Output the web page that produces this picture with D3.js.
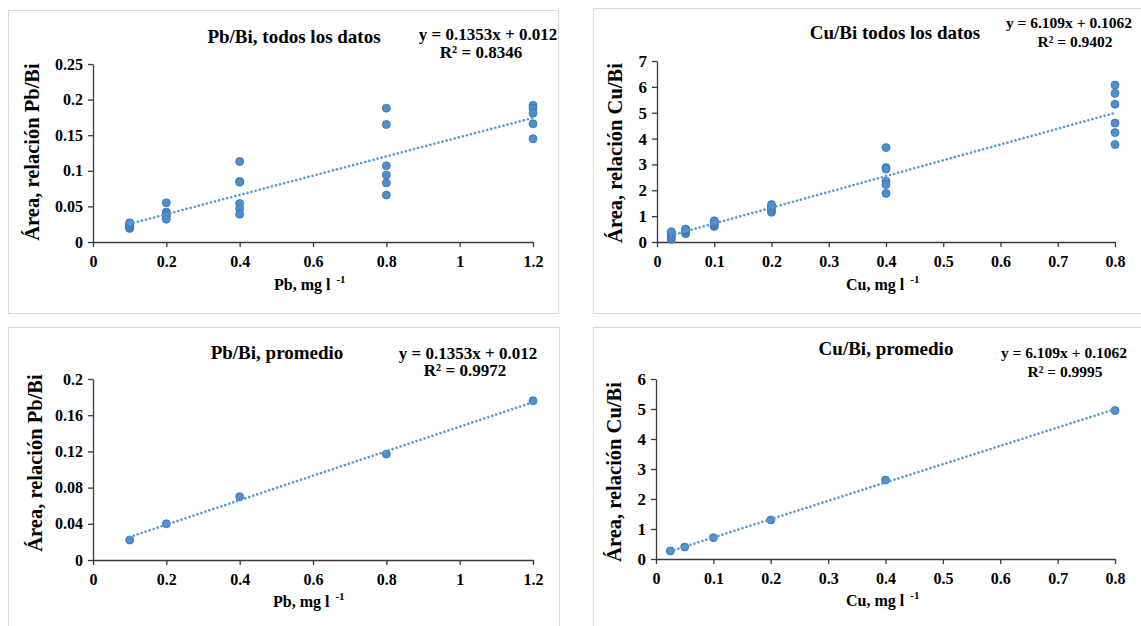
<!DOCTYPE html>
<html>
<head>
<meta charset="utf-8">
<script src="https://cdn.jsdelivr.net/npm/d3@7"></script>
<style>
  html, body { margin: 0; padding: 0; background: #fff; }
  svg { display: block; }
  svg text { font-family: "Liberation Serif", "Times New Roman", serif !important; font-weight: bold; fill: #000; }
</style>
</head>
<body>
<svg id="chart" width="1141" height="626"></svg>
<script>
// ---- Data: Pb/Bi area ratio vs Pb concentration (mg/l) ----
const pbLevels = [0.1, 0.2, 0.4, 0.8, 1.2];
const pbReplicates = [
  [0.019, 0.020, 0.022, 0.024, 0.027],
  [0.055, 0.042, 0.039, 0.036, 0.032],
  [0.113, 0.085, 0.084, 0.054, 0.047, 0.039],
  [0.188, 0.165, 0.107, 0.094, 0.083, 0.066],
  [0.192, 0.188, 0.181, 0.166, 0.145]
];
const pbMeans = [0.022, 0.040, 0.070, 0.117, 0.176];
const pbFit = [0.1353, 0.012];          // slope, intercept
const pbR2All = "0.8346";
const pbR2Mean = "0.9972";

// ---- Data: Cu/Bi area ratio vs Cu concentration (mg/l) ----
const cuLevels = [0.025, 0.05, 0.1, 0.2, 0.4, 0.8];
const cuReplicates = [
  [0.10, 0.18, 0.27, 0.35, 0.40],
  [0.32, 0.37, 0.43, 0.48, 0.50],
  [0.60, 0.66, 0.72, 0.78, 0.82],
  [1.15, 1.22, 1.30, 1.38, 1.45],
  [3.65, 2.88, 2.82, 2.35, 2.22, 1.88],
  [6.07, 5.75, 5.33, 4.60, 4.23, 3.77]
];
const cuMeans = [0.27, 0.40, 0.71, 1.30, 2.63, 4.95];
const cuFit = [6.109, 0.1062];
const cuR2All = "0.9402";
const cuR2Mean = "0.9995";

// ---- Axis ticks ----
const pbXTicks = [0, 0.2, 0.4, 0.6, 0.8, 1, 1.2];
const pbAllYTicks = [0, 0.05, 0.1, 0.15, 0.2, 0.25];
const pbMeanYTicks = [0, 0.04, 0.08, 0.12, 0.16, 0.2];
const cuXTicks = [0, 0.1, 0.2, 0.3, 0.4, 0.5, 0.6, 0.7, 0.8];
const cuAllYTicks = [0, 1, 2, 3, 4, 5, 6, 7];
const cuMeanYTicks = [0, 1, 2, 3, 4, 5, 6];

const svg = d3.select("#chart");

const serif = "'Liberation Serif', 'Times New Roman', serif";
const pointFill = "#4e8fd1";
const pointStroke = "#3b70ac";
const trendColor = "#5b9bd5";
const axisColor = "#3a3a3a";

function flatten(levels, reps) {
  const pts = [];
  levels.forEach((x, i) => reps[i].forEach(y => pts.push([x, y])));
  return pts;
}

function eqText(fit) {
  return "y = " + fit[0] + "x + " + fit[1];
}

function styleAxis(sel, size) {
  sel.attr("font-family", serif).attr("font-size", size).attr("font-weight", "bold");
  sel.select(".domain").attr("stroke", axisColor).attr("stroke-width", 1.3);
  sel.selectAll(".tick line").attr("stroke", axisColor).attr("stroke-width", 1.3);
  sel.selectAll(".tick text")
    .attr("font-family", serif).attr("font-weight", "bold")
    .attr("font-size", size).attr("fill", "#000");
}

function drawPanel(p) {
  const g = svg.append("g");

  // chart frame
  g.append("rect")
    .attr("x", p.frame[0] + 0.5).attr("y", p.frame[1] + 0.5)
    .attr("width", p.frame[2]).attr("height", p.frame[3])
    .attr("fill", "#fff").attr("stroke", "#d9d9d9").attr("stroke-width", 1);

  const x = d3.scaleLinear().domain(d3.extent(p.xTicks)).range(p.xRange);
  const y = d3.scaleLinear().domain(d3.extent(p.yTicks)).range(p.yRange);

  // x axis
  g.append("g")
    .attr("transform", `translate(0,${p.yRange[0]})`)
    .call(d3.axisBottom(x).tickValues(p.xTicks).tickFormat(d => String(d))
      .tickSizeInner(5).tickSizeOuter(0).tickPadding(9))
    .call(styleAxis, 16);

  // y axis
  g.append("g")
    .attr("transform", `translate(${p.xRange[0]},0)`)
    .call(d3.axisLeft(y).tickValues(p.yTicks).tickFormat(d => String(d))
      .tickSizeInner(5).tickSizeOuter(0).tickPadding(5))
    .call(styleAxis, p.yTickSize);

  // data points
  g.append("g").selectAll("circle")
    .data(p.points)
    .join("circle")
    .attr("cx", d => x(d[0]))
    .attr("cy", d => y(d[1]))
    .attr("r", 4)
    .attr("fill", pointFill)
    .attr("stroke", pointStroke)
    .attr("stroke-width", 0.8);

  // linear trendline over the data span
  const xs = d3.extent(p.points, d => d[0]);
  const line = d3.line().x(d => x(d)).y(d => y(p.fit[0] * d + p.fit[1]));
  g.append("path")
    .attr("d", line(xs))
    .attr("fill", "none")
    .attr("stroke", trendColor)
    .attr("stroke-width", 2.6)
    .attr("stroke-linecap", "round")
    .attr("stroke-dasharray", "0.1 4.1");

  // title
  g.append("text")
    .attr("x", p.title[1]).attr("y", p.title[2])
    .attr("text-anchor", "middle")
    .attr("font-size", 19)
    .text(p.title[0]);

  // regression equation and R²
  g.append("text")
    .attr("x", p.eq1[0]).attr("y", p.eq1[1])
    .attr("text-anchor", "middle")
    .attr("font-size", p.eqSize)
    .text(eqText(p.fit));
  g.append("text")
    .attr("x", p.eq2[0]).attr("y", p.eq2[1])
    .attr("text-anchor", "middle")
    .attr("font-size", p.eqSize)
    .text("R² = " + p.r2);

  // y axis title
  g.append("text")
    .attr("transform", `translate(${p.yLabel[1]},${p.yLabel[2]}) rotate(-90)`)
    .attr("text-anchor", "middle")
    .attr("font-size", 20.5)
    .text(p.yLabel[0]);

  // x axis title with superscript unit exponent
  const xt = g.append("text")
    .attr("x", p.xLabel[1]).attr("y", p.xLabel[2])
    .attr("font-size", 16);
  xt.append("tspan").text(p.xLabel[0] + " ");
  xt.append("tspan")
    .attr("dy", -7)
    .attr("dx", 2)
    .attr("font-size", 11)
    .text("-1");
}

drawPanel({
  frame: [8, 10, 550, 303],
  xTicks: pbXTicks, yTicks: pbAllYTicks,
  xRange: [93, 533], yRange: [242, 64],
  points: flatten(pbLevels, pbReplicates),
  fit: pbFit, r2: pbR2All,
  title: ["Pb/Bi, todos los datos", 294, 43],
  eq1: [488, 40], eq2: [481, 58], eqSize: 17,
  yLabel: ["Área, relación Pb/Bi", 39, 152],
  xLabel: ["Pb, mg l", 274, 290],
  yTickSize: 16
});

drawPanel({
  frame: [593, 8, 560, 305],
  xTicks: cuXTicks, yTicks: cuAllYTicks,
  xRange: [657, 1115], yRange: [242, 61],
  points: flatten(cuLevels, cuReplicates),
  fit: cuFit, r2: cuR2All,
  title: ["Cu/Bi todos los datos", 895, 39],
  eq1: [1069, 28], eq2: [1075, 47], eqSize: 15.5,
  yLabel: ["Área, relación Cu/Bi", 622, 153],
  xLabel: ["Cu, mg l", 846, 290],
  yTickSize: 17
});

drawPanel({
  frame: [8, 327, 551, 310],
  xTicks: pbXTicks, yTicks: pbMeanYTicks,
  xRange: [93, 533], yRange: [560, 379],
  points: pbLevels.map((v, i) => [v, pbMeans[i]]),
  fit: pbFit, r2: pbR2Mean,
  title: ["Pb/Bi, promedio", 277, 359],
  eq1: [468, 359], eq2: [465, 376], eqSize: 17,
  yLabel: ["Área, relación Pb/Bi", 42, 463],
  xLabel: ["Pb, mg l", 273, 607],
  yTickSize: 16
});

drawPanel({
  frame: [593, 327, 560, 310],
  xTicks: cuXTicks, yTicks: cuMeanYTicks,
  xRange: [656, 1115], yRange: [559, 379],
  points: cuLevels.map((v, i) => [v, cuMeans[i]]),
  fit: cuFit, r2: cuR2Mean,
  title: ["Cu/Bi, promedio", 886, 355],
  eq1: [1064, 358], eq2: [1065, 377], eqSize: 15.5,
  yLabel: ["Área, relación Cu/Bi", 621, 472],
  xLabel: ["Cu, mg l", 846, 606],
  yTickSize: 17
});
</script>
</body>
</html>
